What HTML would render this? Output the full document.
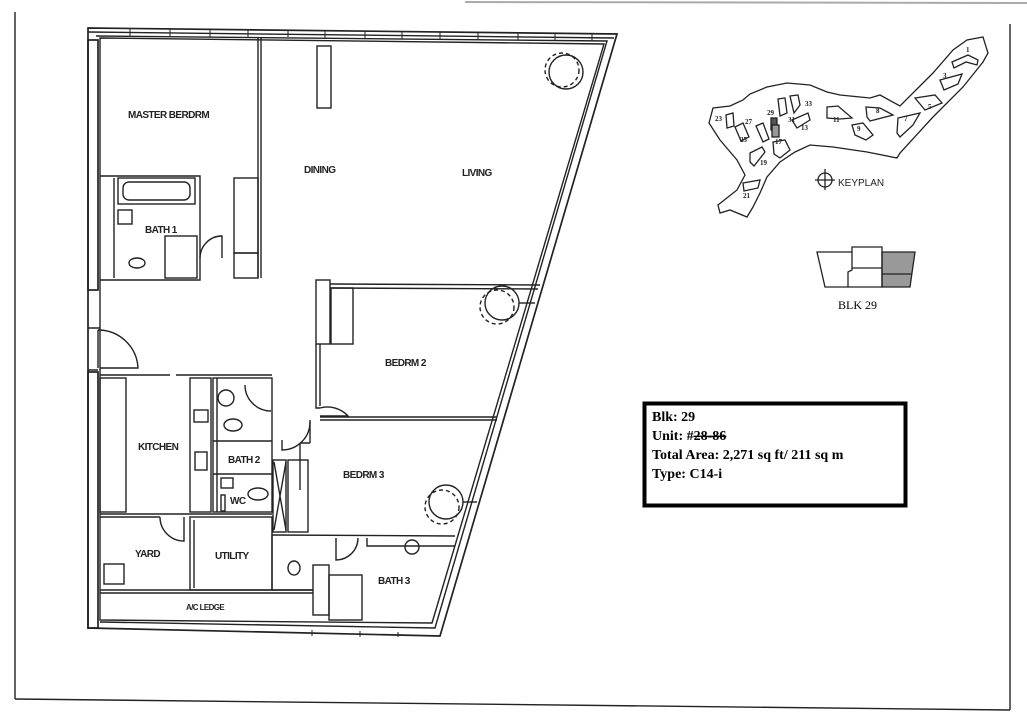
<!DOCTYPE html>
<html><head><meta charset="utf-8"><style>
html,body{margin:0;padding:0;background:#fff;width:1027px;height:726px;overflow:hidden}
svg{display:block}
.l{font-family:"Liberation Sans",sans-serif;font-size:10px;font-weight:bold;letter-spacing:-0.6px;fill:#222}
.t{font-family:"Liberation Serif",serif;font-weight:bold;font-size:14px;fill:#000}
</style></head><body>
<svg width="1027" height="726" viewBox="0 0 1027 726" xmlns="http://www.w3.org/2000/svg">
<g fill="none" stroke="#222" stroke-width="1.4">
<line x1="465" y1="2" x2="1027" y2="3" stroke="#aaa" stroke-width="2"/>
<line x1="15" y1="12" x2="15" y2="699"/>
<line x1="15" y1="699" x2="1010" y2="710"/>
<line x1="1010" y1="24" x2="1010" y2="710"/>

<path d="M88,28 L617,34 L440,636 L88,628 Z" stroke-width="1.7"/>
<path d="M96,36 L607,41 L435,628 L100,622"/>
<path d="M100,38 L604,44 L432,623 L100,620 Z"/>
<line x1="88" y1="32" x2="614" y2="38"/>
<g stroke-width="1">
<line x1="130" y1="29" x2="130" y2="36"/><line x1="170" y1="29" x2="170" y2="36"/><line x1="210" y1="30" x2="210" y2="37"/><line x1="248" y1="30" x2="248" y2="37"/><line x1="288" y1="31" x2="288" y2="37"/><line x1="325" y1="31" x2="325" y2="38"/><line x1="365" y1="31" x2="365" y2="38"/><line x1="402" y1="32" x2="402" y2="39"/><line x1="440" y1="32" x2="440" y2="39"/><line x1="478" y1="33" x2="478" y2="40"/><line x1="518" y1="33" x2="518" y2="40"/><line x1="555" y1="33" x2="555" y2="41"/><line x1="592" y1="34" x2="592" y2="41"/>
<line x1="312" y1="630" x2="312" y2="636"/><line x1="360" y1="631" x2="360" y2="637"/><line x1="398" y1="632" x2="398" y2="637"/>
</g>
<rect x="88" y="40" width="10" height="250" stroke-width="1.7"/>
<rect x="88" y="372" width="10" height="256" stroke-width="1.7"/>
<path d="M88,328 L100,328 M98,330 A40,40 0 0 1 138,368 L100,368 M88,370 L98,370"/>
<line x1="98" y1="330" x2="98" y2="368"/>

<line x1="258" y1="38" x2="258" y2="278"/><line x1="261" y1="38" x2="261" y2="278"/>
<path d="M100,176 L200,176 L200,280 L100,280"/>
<rect x="118" y="178" width="77" height="26"/>
<rect x="123" y="182" width="67" height="18" rx="6"/>
<line x1="114" y1="178" x2="114" y2="278"/>
<rect x="118" y="210" width="14" height="14"/>
<ellipse cx="137" cy="263" rx="8" ry="5"/>
<rect x="165" y="236" width="32" height="42"/>
<path d="M200,258 A22,22 0 0 1 222,236 L222,258"/>
<rect x="234" y="178" width="24" height="75"/><rect x="234" y="253" width="24" height="25"/>
<rect x="317" y="46" width="14" height="62"/>
<circle cx="566" cy="72" r="17"/><circle cx="562" cy="70" r="17" stroke-dasharray="4,3"/>
<circle cx="502" cy="303" r="17"/><circle cx="497" cy="307" r="17" stroke-dasharray="4,3"/>
<circle cx="446" cy="502" r="17"/><circle cx="442" cy="507" r="17" stroke-dasharray="4,3"/>
<line x1="519" y1="303" x2="535" y2="303"/><line x1="463" y1="502" x2="477" y2="502"/>

<path d="M330,284 L540,285 M330,288 L538,289"/>
<rect x="316" y="280" width="14" height="64"/>
<path d="M316,344 L316,408 L320,408 M320,344 L320,406"/>
<rect x="331" y="288" width="22" height="56"/>
<path d="M320,408 A28,28 0 0 1 348,416 L320,416"/>
<line x1="320" y1="417" x2="497" y2="417"/><line x1="320" y1="420" x2="497" y2="420"/>
<path d="M310,420 L310,443 M300,443 L310,443 M300,443 L300,490"/>
<path d="M310,422 A28,28 0 0 1 282,450 L282,440"/>
<rect x="288" y="460" width="20" height="72"/>
<path d="M274,462 L286,530 M286,462 L274,530"/><rect x="273" y="460" width="13" height="72"/>
<line x1="272" y1="535" x2="455" y2="536"/>
<path d="M336,538 L336,560 A22,22 0 0 0 358,538"/>
<path d="M367,538 L367,546 L455,546"/>
<circle cx="412" cy="547" r="7"/>
<line x1="272" y1="535" x2="272" y2="590"/>
<ellipse cx="294" cy="568" rx="6" ry="7"/>
<rect x="313" y="565" width="16" height="50"/>
<rect x="329" y="575" width="33" height="45"/>
<line x1="272" y1="590" x2="313" y2="590"/>

<path d="M100,375 L170,375 M176,375 L272,375"/>
<rect x="100" y="378" width="26" height="134"/>
<rect x="190" y="378" width="21" height="134"/>
<rect x="194" y="410" width="14" height="12"/><rect x="195" y="452" width="12" height="18"/>
<rect x="213" y="378" width="59" height="134"/>
<line x1="217" y1="378" x2="217" y2="512"/>
<line x1="213" y1="441" x2="272" y2="441"/><line x1="213" y1="474" x2="272" y2="474"/>
<circle cx="226" cy="398" r="8"/><ellipse cx="233" cy="425" rx="9" ry="6"/>
<path d="M245,385 A26,26 0 0 0 271,411"/>
<rect x="221" y="478" width="12" height="10"/><ellipse cx="258" cy="494" rx="10" ry="6"/>
<rect x="221" y="495" width="4" height="16"/>
<line x1="100" y1="514" x2="272" y2="514"/><line x1="100" y1="517" x2="160" y2="517"/>
<path d="M160,517 A24,24 0 0 0 184,541 L184,517"/>
<rect x="190" y="517" width="82" height="73"/>
<line x1="194" y1="520" x2="194" y2="588"/>
<rect x="104" y="564" width="20" height="20"/>
<line x1="100" y1="590" x2="313" y2="590"/><line x1="100" y1="593" x2="313" y2="593"/>
</g>

<text class="l" x="128" y="118">MASTER BERDRM</text>
<text class="l" x="304" y="173">DINING</text>
<text class="l" x="462" y="176">LIVING</text>
<text class="l" x="145" y="233">BATH 1</text>
<text class="l" x="385" y="366">BEDRM 2</text>
<text class="l" x="343" y="478">BEDRM 3</text>
<text class="l" x="138" y="450">KITCHEN</text>
<text class="l" x="228" y="463">BATH 2</text>
<text class="l" x="230" y="504">WC</text>
<text class="l" x="135" y="557">YARD</text>
<text class="l" x="215" y="559">UTILITY</text>
<text class="l" x="378" y="584">BATH 3</text>
<text class="l" x="186" y="610" style="font-size:8px">A/C LEDGE</text>

<g fill="none" stroke="#222" stroke-width="1.3">
<path d="M709,123 L713,108 L730,106 L743,100 L750,94 L767,87 L787,83 L810,85 L827,92 L840,95 L870,98 L880,95 L900,106 L933,73 L953,50 L967,40 L983,37 L988,53 L983,62 L963,87 L933,117 L900,153 L897,158 L867,152 L833,147 L810,145 L795,152 L780,162 L767,177 L760,193 L753,207 L747,217 L730,210 L720,213 L718,205 L737,190 L745,175 L737,160 L720,140 Z"/>
<path d="M952,62 L968,55 L978,60 L977,65 L966,62 L954,68 Z"/>
<path d="M940,80 L962,74 L958,84 L944,90 Z"/>
<path d="M915,98 L935,95 L942,103 L925,110 Z"/>
<path d="M898,118 L920,113 L913,125 L900,137 L897,133 Z"/>
<path d="M866,107 L880,108 L893,115 L870,121 L867,117 Z"/>
<path d="M852,125 L863,123 L873,135 L866,140 L855,135 Z"/>
<path d="M827,107 L838,106 L852,118 L840,119 L827,118 Z"/>
<path d="M790,96 L798,95 L800,105 L794,113 Z"/>
<path d="M778,99 L785,98 L787,113 L780,116 Z"/>
<path d="M792,120 L808,113 L810,120 L797,128 Z"/>
<rect x="771" y="118" width="6" height="12" fill="#555"/><rect x="772" y="125" width="7" height="12" fill="#999"/>
<path d="M756,126 L763,123 L769,139 L763,142 Z"/>
<path d="M735,127 L743,123 L749,137 L741,141 Z"/>
<path d="M726,115 L733,113 L734,126 L727,128 Z"/>
<path d="M773,142 L785,140 L790,150 L780,158 L774,154 Z"/>
<path d="M750,153 L762,147 L765,152 L754,166 L750,162 Z"/>
<path d="M743,183 L760,180 L758,188 L744,191 Z"/>
<circle cx="825" cy="180" r="7"/><line x1="815" y1="180" x2="835" y2="180"/><line x1="825" y1="169" x2="825" y2="190"/>
</g>
<g font-family="Liberation Serif,serif" font-size="7" font-weight="bold" fill="#222">
<text x="966" y="52">1</text><text x="943" y="78">3</text><text x="928" y="109">5</text><text x="904" y="121">7</text><text x="876" y="113">8</text><text x="857" y="131">9</text><text x="833" y="122">11</text><text x="801" y="130">13</text><text x="805" y="106">33</text><text x="788" y="122">31</text><text x="767" y="115">29</text><text x="745" y="124">27</text><text x="715" y="121">23</text><text x="740" y="142">25</text><text x="775" y="144">17</text><text x="760" y="165">19</text><text x="743" y="198">21</text>
</g>
<text x="838" y="186" style="font-family:'Liberation Sans',sans-serif;font-size:10px" fill="#222">KEYPLAN</text>

<g stroke="#222" stroke-width="1.3">
<path d="M882,252 L915,252 L910,287 L882,287 Z" fill="#999"/>
<path d="M817,252 L852,252 L852,247 L882,247 L882,287 L825,287 Z" fill="none"/>
<path d="M852,252 L852,270 L848,272 L848,287 M852,268 L882,268 M882,274 L912,274" fill="none"/>
</g>
<text x="838" y="309" style="font-family:'Liberation Serif',serif;font-size:12px">BLK 29</text>

<rect x="644.5" y="403.5" width="261" height="102" fill="none" stroke="#000" stroke-width="4"/>
<text class="t" x="652" y="421">Blk: 29</text>
<text class="t" x="652" y="440">Unit: #<tspan text-decoration="line-through">28-86</tspan></text>
<text class="t" x="652" y="459">Total Area: 2,271 sq ft/ 211 sq m</text>
<text class="t" x="652" y="478">Type: C14-i</text>
</svg>
</body></html>
